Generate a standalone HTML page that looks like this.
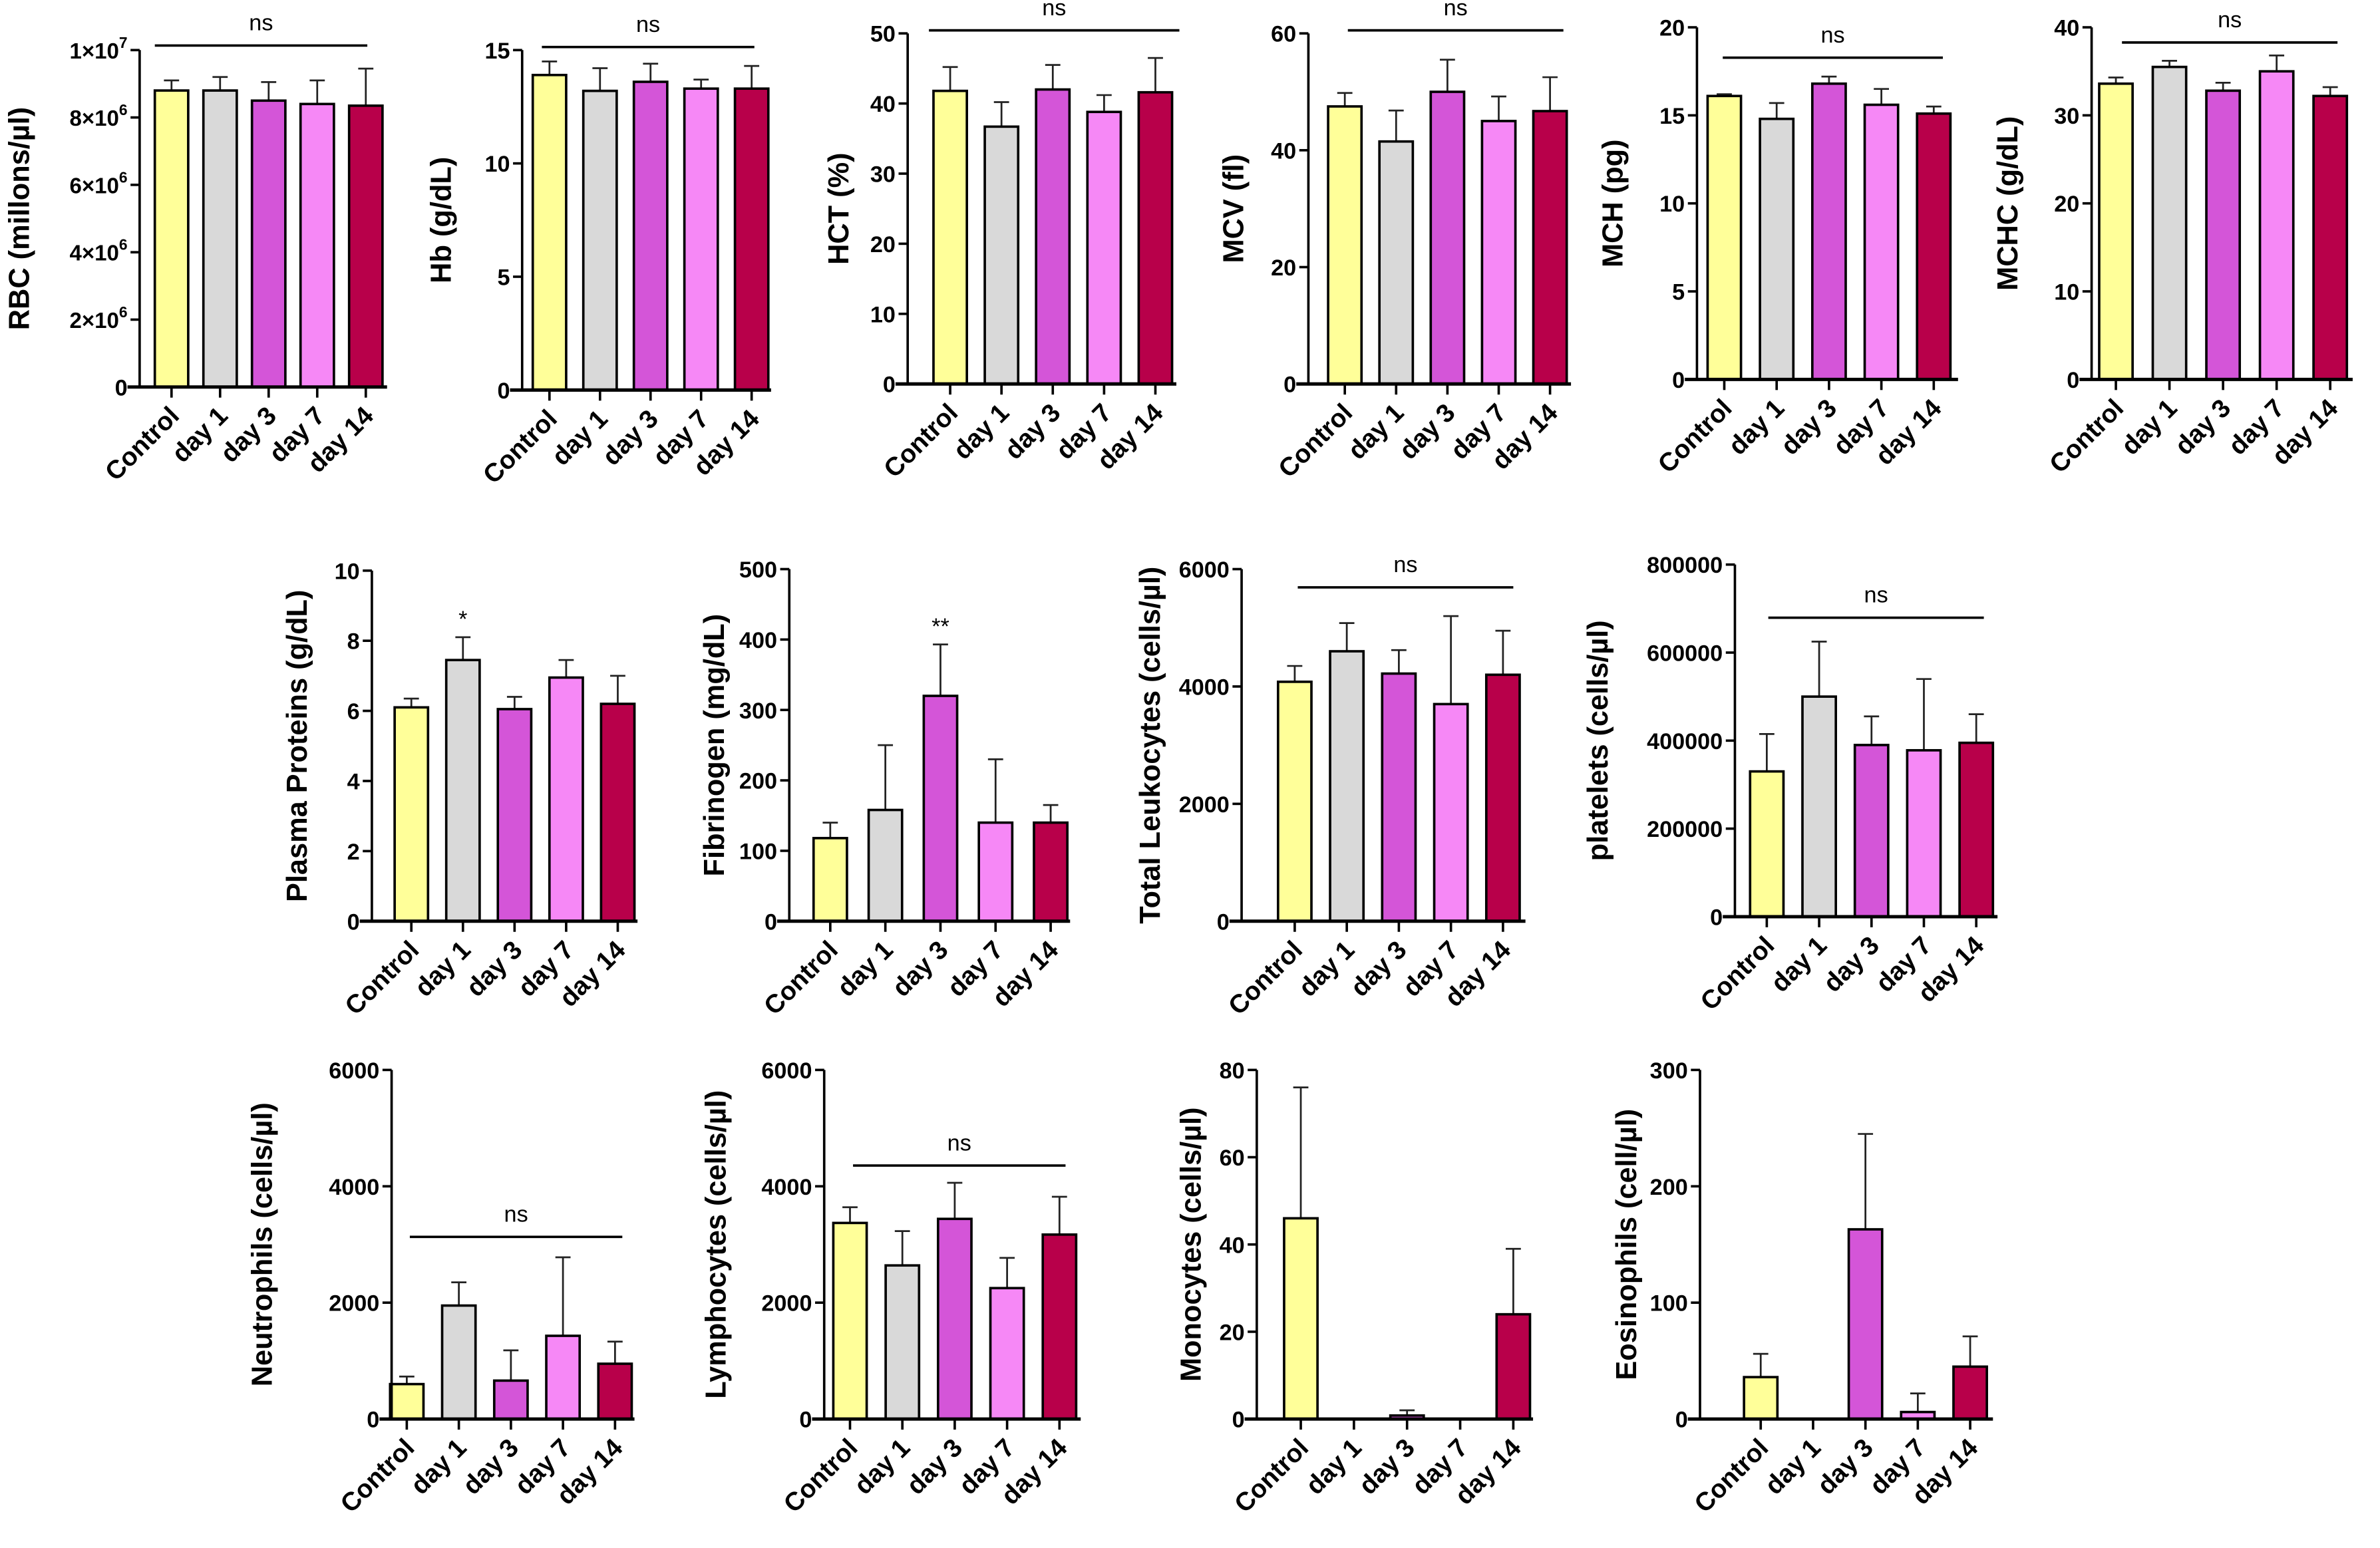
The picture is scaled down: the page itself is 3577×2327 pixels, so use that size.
<!DOCTYPE html>
<html><head><meta charset="utf-8"><style>
html,body{margin:0;padding:0;background:#fff;}
svg{display:block;}
text{font-family:"Liberation Sans",Arial,sans-serif;}
</style></head><body>
<svg id="chart" width="3577" height="2327" viewBox="0 0 1568 1020" preserveAspectRatio="none" xmlns="http://www.w3.org/2000/svg"></svg>
<script>
const categories = ["Control","day 1","day 3","day 7","day 14"];
const colors = ["#ffff99","#d9d9d9","#d455d8","#f688f6","#b8004a"];

const rbcMeans = [8.8e6,8.8e6,8.5e6,8.4e6,8.35e6];
const rbcErr = [9.1e6,9.2e6,9.05e6,9.1e6,9.45e6];
const rbcTicks = [0,2e6,4e6,6e6,8e6,1e7];
const hbMeans = [13.9,13.2,13.6,13.3,13.3];
const hbErr = [14.5,14.2,14.4,13.7,14.3];
const hbTicks = [0,5,10,15];
const hctMeans = [41.8,36.7,42,38.8,41.6];
const hctErr = [45.2,40.2,45.5,41.2,46.5];
const hctTicks = [0,10,20,30,40,50];
const mcvMeans = [47.5,41.5,50,45,46.7];
const mcvErr = [49.8,46.8,55.5,49.2,52.5];
const mcvTicks = [0,20,40,60];
const mchMeans = [16.1,14.8,16.8,15.6,15.1];
const mchErr = [16.2,15.7,17.2,16.5,15.5];
const mchTicks = [0,5,10,15,20];
const mchcMeans = [33.6,35.5,32.8,35,32.2];
const mchcErr = [34.3,36.2,33.7,36.8,33.2];
const mchcTicks = [0,10,20,30,40];
const ppMeans = [6.1,7.45,6.05,6.95,6.2];
const ppErr = [6.35,8.1,6.4,7.45,7.0];
const ppTicks = [0,2,4,6,8,10];
const fibMeans = [118,158,320,140,140];
const fibErr = [140,250,393,230,165];
const fibTicks = [0,100,200,300,400,500];
const wbcMeans = [4080,4600,4220,3700,4200];
const wbcErr = [4350,5080,4620,5200,4950];
const wbcTicks = [0,2000,4000,6000];
const pltMeans = [330000,500000,390000,378000,395000];
const pltErr = [415000,625000,455000,540000,460000];
const pltTicks = [0,200000,400000,600000,800000];
const neuMeans = [600,1950,660,1430,950];
const neuErr = [730,2350,1180,2780,1330];
const neuTicks = [0,2000,4000,6000];
const lymMeans = [3370,2640,3440,2250,3170];
const lymErr = [3640,3230,4060,2770,3820];
const lymTicks = [0,2000,4000,6000];
const monMeans = [46,0,0.8,0,24];
const monErr = [76,0,2,0,39];
const monTicks = [0,20,40,60,80];
const eosMeans = [36,0,163,6,45];
const eosErr = [56,0,245,22,71];
const eosTicks = [0,100,200,300];

const NS = "http://www.w3.org/2000/svg";
const svg = document.getElementById('chart');
function mk(tag, attrs, parent){ const e=document.createElementNS(NS,tag); for(const k in attrs) e.setAttribute(k,attrs[k]); (parent||svg).appendChild(e); return e; }

function sci(v){ const ex=Math.floor(Math.log10(v)+1e-9); const m=Math.round(v/Math.pow(10,ex)); return [m,ex]; }

const panels = [
 {id:'rbc', title:'RBC (millons/µl)', means:rbcMeans, err:rbcErr, ticks:rbcTicks, ax:92, top:33, zero:255, c0:113, dx:32, xEnd:255, lx:19, sci:true, ns:{y:30,x1:102,x2:242}},
 {id:'hb', title:'Hb (g/dL)', means:hbMeans, err:hbErr, ticks:hbTicks, ax:344, top:33, zero:257, c0:362, dx:33.3, xEnd:508, lx:297, ns:{y:31,x1:357,x2:497}},
 {id:'hct', title:'HCT (%)', means:hctMeans, err:hctErr, ticks:hctTicks, ax:598, top:22, zero:253, c0:626, dx:33.8, xEnd:775, lx:559, ns:{y:20,x1:612,x2:777}},
 {id:'mcv', title:'MCV (fl)', means:mcvMeans, err:mcvErr, ticks:mcvTicks, ax:862, top:22, zero:253, c0:886, dx:33.8, xEnd:1035, lx:819, ns:{y:20,x1:888,x2:1030}},
 {id:'mch', title:'MCH (pg)', means:mchMeans, err:mchErr, ticks:mchTicks, ax:1118, top:18, zero:250, c0:1136, dx:34.5, xEnd:1290, lx:1069, ns:{y:38,x1:1135,x2:1280}},
 {id:'mchc', title:'MCHC (g/dL)', means:mchcMeans, err:mchcErr, ticks:mchcTicks, ax:1378, top:18, zero:250, c0:1394, dx:35.3, xEnd:1550, lx:1329, ns:{y:28,x1:1398,x2:1540}},
 {id:'pp', title:'Plasma Proteins (g/dL)', means:ppMeans, err:ppErr, ticks:ppTicks, ax:245, top:376, zero:607, c0:271, dx:34, xEnd:420, lx:202, stars:{i:1,t:'*'}},
 {id:'fib', title:'Fibrinogen (mg/dL)', means:fibMeans, err:fibErr, ticks:fibTicks, ax:520, top:375, zero:607, c0:547, dx:36.3, xEnd:705, lx:477, stars:{i:2,t:'**'}},
 {id:'wbc', title:'Total Leukocytes (cells/µl)', means:wbcMeans, err:wbcErr, ticks:wbcTicks, ax:818, top:375, zero:607, c0:853, dx:34.3, xEnd:1005, lx:764, ns:{y:387,x1:855,x2:997}},
 {id:'plt', title:'platelets (cells/µl)', means:pltMeans, err:pltErr, ticks:pltTicks, ax:1143, top:372, zero:604, c0:1164, dx:34.5, xEnd:1316, lx:1059, ns:{y:407,x1:1165,x2:1307}},
 {id:'neu', title:'Neutrophils (cells/µl)', means:neuMeans, err:neuErr, ticks:neuTicks, ax:258, top:705, zero:935, c0:268, dx:34.3, xEnd:418, lx:179, ns:{y:815,x1:270,x2:410}},
 {id:'lym', title:'Lymphocytes (cells/µl)', means:lymMeans, err:lymErr, ticks:lymTicks, ax:543, top:705, zero:935, c0:560, dx:34.5, xEnd:712, lx:478, ns:{y:768,x1:562,x2:702}},
 {id:'mon', title:'Monocytes (cells/µl)', means:monMeans, err:monErr, ticks:monTicks, ax:828, top:705, zero:935, c0:857, dx:35, xEnd:1010, lx:791},
 {id:'eos', title:'Eosinophils (cell/µl)', means:eosMeans, err:eosErr, ticks:eosTicks, ax:1120, top:705, zero:935, c0:1160, dx:34.5, xEnd:1313, lx:1078}
];

panels.forEach(p=>{
  const g = mk('g',{});
  
  
  const max = p.ticks[p.ticks.length-1];
  const y = v => p.zero - (v/max)*(p.zero-p.top);
  const bw = 22;
  p.means.forEach((m,i)=>{
    const cx = p.c0 + i*p.dx;
    if(p.err[i] > m){
      const el = mk('path',{d:`M${cx},${y(m)}V${y(p.err[i])}M${cx-5},${y(p.err[i])}H${cx+5}`, stroke:'#222', 'stroke-width':1.2, fill:'none'}, g);
      
      
    }
    if(m>0){
      const r = mk('rect',{x:cx-bw/2, y:y(m), width:bw, height:p.zero-y(m), fill:colors[i], stroke:'#000', 'stroke-width':1.6}, g);
      
      
    }
  });
  const ya = mk('line',{x1:p.ax, y1:p.top, x2:p.ax, y2:p.zero, stroke:'#000','stroke-width':1.6}, g);
  
  
  const xa = mk('line',{x1:p.ax-8, y1:p.zero, x2:p.xEnd, y2:p.zero, stroke:'#000','stroke-width':2.2}, g);
  
  
  p.ticks.forEach(t=>{
    const ty = y(t);
    mk('line',{x1:p.ax-6, y1:ty, x2:p.ax, y2:ty, stroke:'#000','stroke-width':1.6}, g);
    const tx = mk('text',{x:p.ax-8, y:ty+5.5, 'text-anchor':'end','font-size':15,'font-weight':'bold', fill:'#000'}, g);
    
    
    if(p.sci && t!==0){
      const s = sci(t);
      tx.textContent = s[0]+'×10';
      tx.setAttribute('font-size', 14.5);
      const sp = mk('tspan',{dy:-7,'font-size':10}, tx); sp.textContent = s[1];
    } else tx.textContent = String(t);
  });
  categories.forEach((c,i)=>{
    const cx = p.c0 + i*p.dx;
    mk('line',{x1:cx, y1:p.zero, x2:cx, y2:p.zero+7, stroke:'#000','stroke-width':1.6}, g);
    const tx = mk('text',{x:cx+6, y:p.zero+20, 'text-anchor':'end','font-size':17,'font-weight':'bold', transform:`rotate(-45 ${cx+6} ${p.zero+20})`}, g);
    tx.textContent = c;
    
    
  });
  const cy = (p.top+p.zero)/2;
  const tt = mk('text',{x:p.lx, y:cy, 'text-anchor':'middle','font-size':19,'font-weight':'bold', transform:`rotate(-90 ${p.lx} ${cy})`}, g);
  tt.textContent = p.title;
  
  
  if(p.ns){
    const l = mk('line',{x1:p.ns.x1, y1:p.ns.y, x2:p.ns.x2, y2:p.ns.y, stroke:'#000','stroke-width':1.6}, g);
    
    
    const t = mk('text',{x:(p.ns.x1+p.ns.x2)/2, y:p.ns.y-10, 'text-anchor':'middle','font-size':15}, g);
    t.textContent = 'ns';
    
    
  }
  if(p.stars){
    const cx = p.c0 + p.stars.i*p.dx;
    const t = mk('text',{x:cx, y:y(p.err[p.stars.i])-7, 'text-anchor':'middle','font-size':15}, g);
    t.textContent = p.stars.t;
    
    
  }
});
</script>
</body></html>
